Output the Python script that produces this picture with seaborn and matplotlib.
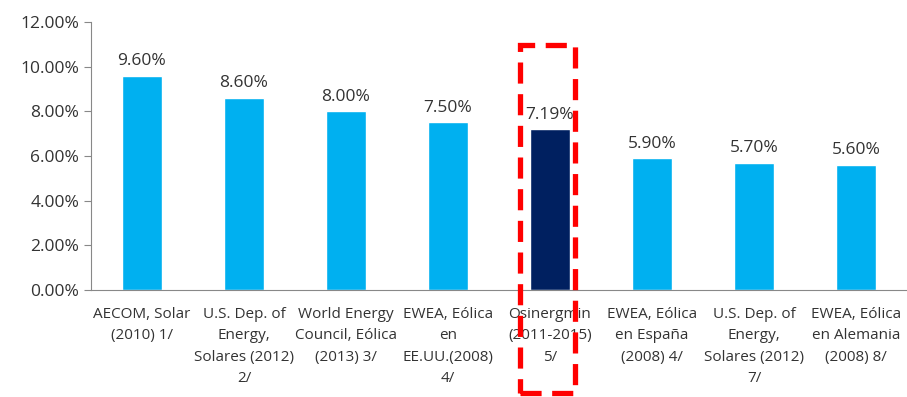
import numpy as np
import matplotlib.pyplot as plt
import seaborn as sns
from matplotlib.patches import Rectangle

categorias = ["AECOM, Solar\n(2010) 1/",
              "U.S. Dep. of\nEnergy,\nSolares (2012)\n2/",
              "World Energy\nCouncil, Eólica\n(2013) 3/",
              "EWEA, Eólica\nen\nEE.UU.(2008)\n4/",
              "Osinergmin\n(2011-2015)\n5/",
              "EWEA, Eólica\nen España\n(2008) 4/",
              "U.S. Dep. of\nEnergy,\nSolares (2012)\n7/",
              "EWEA, Eólica\nen Alemania\n(2008) 8/"]
valores = [9.60, 8.60, 8.00, 7.50, 7.19, 5.90, 5.70, 5.60]
colores = ["#00B0F0"] * 4 + ["#002060"] + ["#00B0F0"] * 3

sns.set_style("white")
plt.rcParams['font.family'] = ['Open Sans', 'DejaVu Sans']

fig = plt.figure(figsize=(9.07, 3.97), dpi=100)
ax = fig.add_axes([0.1003, 0.2695, 0.8997, 0.6751])

df_x = list(range(len(valores)))
sns.barplot(x=df_x, y=valores, hue=df_x, palette=colores, legend=False,
            width=0.39, saturation=1, ax=ax)

for i, v in enumerate(valores):
    ax.text(i, v + 0.3, f"{v:.2f}%", ha='center', va='bottom',
            fontsize=12.5, color='#333333')

ax.set_xlim(-0.5, len(valores) - 0.5)
ax.set_ylim(0, 12)
ax.set_yticks(np.arange(0, 12.01, 2))
ax.set_yticklabels([f"{t:.2f}%" for t in np.arange(0, 12.01, 2)],
                   fontsize=12.5, color='#333333')
ax.set_xticks(np.arange(len(valores)))
ax.set_xticklabels(categorias, fontsize=11, color='#333333', linespacing=1.6)
ax.set_xticks(np.arange(-0.5, len(valores)), minor=True)
ax.tick_params(axis='x', which='major', length=0, pad=12)
ax.tick_params(axis='x', which='minor', length=5, color='#888888', direction='out')
ax.tick_params(axis='y', length=5, color='#888888', direction='out', left=True)
sns.despine(ax=ax)
for s in ['left', 'bottom']:
    ax.spines[s].set_color('#888888')

rect = Rectangle((3.71, -4.6), 0.535, 15.55, fill=False, edgecolor='red',
                 linewidth=3.8, linestyle=(0, (4, 2)), clip_on=False, zorder=5)
ax.add_patch(rect)

fig.savefig("out.png", dpi=100)
